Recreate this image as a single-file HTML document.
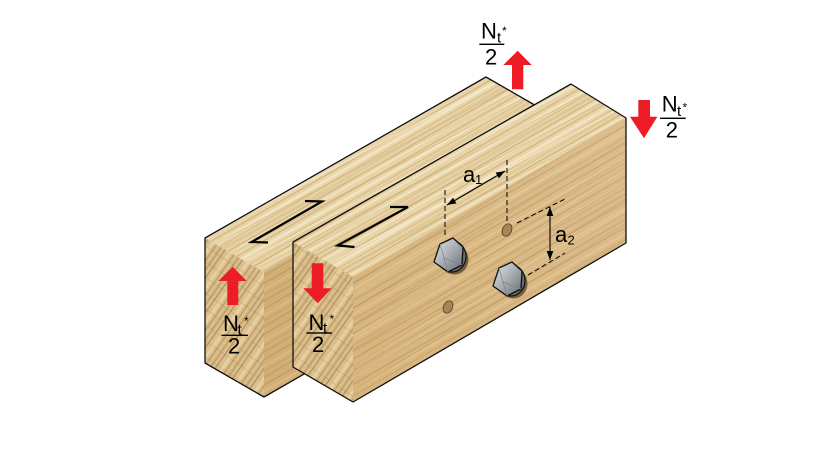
<!DOCTYPE html>
<html>
<head>
<meta charset="utf-8">
<style>
html,body{margin:0;padding:0;background:#fff;}
svg{display:block;}
</style>
</head>
<body>
<svg width="814" height="462" viewBox="0 0 814 462" xmlns="http://www.w3.org/2000/svg" font-family="'Liberation Sans', Arial, sans-serif">
<defs>
  <pattern id="gTop" patternUnits="userSpaceOnUse" width="400" height="26" patternTransform="rotate(-30)">
    <rect width="400" height="26" fill="#e8d4a7"/>
    <rect y="2" width="400" height="1.2" fill="#cfb47f"/>
    <rect y="6" width="400" height="2.5" fill="#f2e5c6"/>
    <rect y="11" width="400" height="1" fill="#d3b983"/>
    <rect y="14" width="400" height="3" fill="#dfc595" opacity=".7"/>
    <rect y="19" width="400" height="1" fill="#c9ad77"/>
    <rect y="22" width="400" height="2" fill="#f1e2c0"/>
  </pattern>
  <pattern id="gTop2" patternUnits="userSpaceOnUse" width="400" height="41" patternTransform="rotate(-28)">
    <rect y="4" width="400" height="1" fill="#c8aa74" opacity=".6"/>
    <rect y="17" width="400" height="2" fill="#f5ead0" opacity=".6"/>
    <rect y="29" width="400" height="1.2" fill="#cbae78" opacity=".5"/>
    <rect y="35" width="400" height="2" fill="#d9bf8d" opacity=".5"/>
  </pattern>
  <pattern id="gSide" patternUnits="userSpaceOnUse" width="400" height="22" patternTransform="rotate(-30)">
    <rect width="400" height="22" fill="#d7b47c"/>
    <rect y="3" width="400" height="1" fill="#bf9a62"/>
    <rect y="8" width="400" height="2" fill="#dfbf8a"/>
    <rect y="13" width="400" height="1" fill="#c7a36b"/>
    <rect y="18" width="400" height="1.5" fill="#bd975f" opacity=".6"/>
  </pattern>
  <pattern id="gSide2" patternUnits="userSpaceOnUse" width="400" height="35" patternTransform="rotate(-31.5)">
    <rect y="6" width="400" height="1" fill="#b48f58" opacity=".5"/>
    <rect y="15" width="400" height="2.5" fill="#e2c594" opacity=".5"/>
    <rect y="27" width="400" height="1" fill="#b8935c" opacity=".5"/>
  </pattern>
  <pattern id="gEnd" patternUnits="userSpaceOnUse" width="300" height="20" patternTransform="rotate(-55)">
    <rect width="300" height="20" fill="#dabf8c"/>
    <rect y="2" width="300" height="2" fill="#c2a26d"/>
    <rect y="7" width="300" height="1.2" fill="#b28f5a"/>
    <rect y="12" width="300" height="3" fill="#e6d0a2"/>
    <rect y="17" width="300" height="1.5" fill="#bf9e68"/>
  </pattern>
  <pattern id="gEnd2" patternUnits="userSpaceOnUse" width="300" height="13" patternTransform="rotate(35)">
    <rect y="5" width="300" height="0.8" fill="#a98a58" opacity=".4"/>
  </pattern>
  <linearGradient id="boltG" x1="0" y1="0" x2="1" y2="1">
    <stop offset="0" stop-color="#e3e6e9"/>
    <stop offset="0.45" stop-color="#aeb4b9"/>
    <stop offset="1" stop-color="#656c72"/>
  </linearGradient>
  <linearGradient id="sideLight" x1="0" y1="1" x2="1" y2="0">
    <stop offset="0" stop-color="#fff" stop-opacity="0"/>
    <stop offset="1" stop-color="#fff" stop-opacity="0.12"/>
  </linearGradient>
  <marker id="ah" viewBox="0 0 10 10" refX="10" refY="5" markerWidth="9" markerHeight="9" markerUnits="userSpaceOnUse" orient="auto-start-reverse">
    <path d="M0,1.3 L10,5 L0,8.7 z" fill="#000"/>
  </marker>
</defs>

<rect width="814" height="462" fill="#fff"/>

<!-- BACK BLOCK -->
<polygon points="205,238 486,77 545,111 264,272" fill="url(#gTop)"/>
<polygon points="205,238 486,77 545,111 264,272" fill="url(#gTop2)"/>
<polygon points="264,272 545,111 545,236 264,397" fill="url(#gSide)"/>
<polygon points="264,272 545,111 545,236 264,397" fill="#b08a55" opacity=".12"/>
<polygon points="205,238 264,272 264,397 205,363" fill="url(#gEnd)"/>
<polygon points="205,238 264,272 264,397 205,363" fill="url(#gEnd2)"/>
<polygon points="205,238 486,77 545,111 545,236 264,397 205,363" fill="none" stroke="#111" stroke-width="1.3" stroke-linejoin="round"/>

<polyline points="305,201 322,201.5 251.5,242 268,242.5" fill="none" stroke="#000" stroke-width="2.2" stroke-linejoin="miter"/>

<!-- FRONT BLOCK -->
<polygon points="293,242 571,84 626,118 353,277" fill="url(#gTop)"/>
<polygon points="293,242 571,84 626,118 353,277" fill="url(#gTop2)"/>
<polygon points="353,277 626,118 626,243 353,402" fill="url(#gSide)"/>
<polygon points="353,277 626,118 626,243 353,402" fill="url(#gSide2)"/>
<polygon points="353,277 626,118 626,243 353,402" fill="url(#sideLight)"/>
<polygon points="293,242 353,277 353,402 293,367" fill="url(#gEnd)"/>
<polygon points="293,242 353,277 353,402 293,367" fill="url(#gEnd2)"/>
<polygon points="293,242 571,84 626,118 626,243 353,402 293,367" fill="none" stroke="#111" stroke-width="1.3" stroke-linejoin="round"/>

<polyline points="390,207 408,207 337.5,245.5 354.5,247" fill="none" stroke="#000" stroke-width="2.2" stroke-linejoin="miter"/>

<!-- holes -->
<ellipse cx="507" cy="230" rx="4.5" ry="6.5" transform="rotate(25 507 230)" fill="#a98556" stroke="#5a4026" stroke-width=".9"/>
<ellipse cx="448" cy="307" rx="4.5" ry="6.5" transform="rotate(25 448 307)" fill="#a98556" stroke="#5a4026" stroke-width=".9"/>

<!-- dashed dimension lines -->
<g stroke="#000" stroke-width="1" stroke-dasharray="5,3" fill="none">
  <line x1="445" y1="190" x2="445" y2="238"/>
  <line x1="507" y1="160" x2="507" y2="222"/>
  <line x1="517" y1="223" x2="565" y2="199"/>
  <line x1="528" y1="275" x2="565" y2="253"/>
</g>

<line x1="447" y1="205" x2="505" y2="171" stroke="#000" stroke-width="1.1" marker-start="url(#ah)" marker-end="url(#ah)"/>
<line x1="550" y1="207" x2="550" y2="260" stroke="#000" stroke-width="1.1" marker-start="url(#ah)" marker-end="url(#ah)"/>

<text x="463" y="182" font-size="22" fill="#000">a</text>
<text x="475" y="184" font-size="13" fill="#000">1</text>
<text x="555" y="242" font-size="22" fill="#000">a</text>
<text x="567.5" y="244.5" font-size="13" fill="#000">2</text>

<!-- bolts -->
<g transform="translate(449,255)">
  <ellipse cx="5.5" cy="4.5" rx="14" ry="15" fill="#5e4628" opacity=".8"/>
  <ellipse cx="3" cy="1.5" rx="14" ry="15.5" fill="#676d72" stroke="#111" stroke-width="1.2"/>
  <polygon points="-15,7 -9,-11 4,-17 14,-8 13,10 -1,17" fill="url(#boltG)" stroke="#111" stroke-width="1.3" stroke-linejoin="round"/>
  <polyline points="-9,-11 -5,3 -1,17" fill="none" stroke="#7d858b" stroke-width=".7"/>
  <line x1="-5" y1="3" x2="13" y2="10" stroke="#7d858b" stroke-width=".7"/>
</g>
<g transform="translate(508,279)">
  <ellipse cx="5.5" cy="4.5" rx="14" ry="15" fill="#5e4628" opacity=".8"/>
  <ellipse cx="3" cy="1.5" rx="14" ry="15.5" fill="#676d72" stroke="#111" stroke-width="1.2"/>
  <polygon points="-15,7 -9,-11 4,-17 14,-8 13,10 -1,17" fill="url(#boltG)" stroke="#111" stroke-width="1.3" stroke-linejoin="round"/>
  <polyline points="-9,-11 -5,3 -1,17" fill="none" stroke="#7d858b" stroke-width=".7"/>
  <line x1="-5" y1="3" x2="13" y2="10" stroke="#7d858b" stroke-width=".7"/>
</g>

<!-- red arrows -->
<g fill="#ee1c25">
  <polygon points="517.7,50.7 531.7,65 523.3,65 523.3,89.3 512,89.3 512,65 503.3,65"/>
  <polygon points="638.3,100 650,100 650,116.7 657.3,116.7 644,138.3 630,116.7 638.3,116.7"/>
  <polygon points="232.7,266.7 246.7,281 238.3,281 238.3,305 227.3,305 227.3,281 218.3,281"/>
  <polygon points="311.7,263.3 323.3,263.3 323.3,288.3 331.7,288.3 317.7,303.3 303.3,288.3 311.7,288.3"/>
</g>

<!-- labels -->
<g fill="#000">
  <text x="481" y="38.5" font-size="22">N</text>
  <text x="497" y="42.5" font-size="15">t</text>
  <text x="502" y="35" font-size="12">*</text>
  <rect x="479.3" y="43.6" width="25" height="1.4"/>
  <text x="485" y="64.3" font-size="22">2</text>

  <text x="661.7" y="111.7" font-size="22">N</text>
  <text x="677" y="116" font-size="15">t</text>
  <text x="682.5" y="111.5" font-size="12">*</text>
  <rect x="660" y="117.6" width="25.7" height="1.4"/>
  <text x="665.7" y="137.3" font-size="22">2</text>

  <text x="223" y="331" font-size="22">N</text>
  <text x="237.5" y="334.5" font-size="15">t</text>
  <text x="244" y="325" font-size="12">*</text>
  <rect x="221.5" y="334.6" width="26.5" height="1.4"/>
  <text x="228" y="353.7" font-size="22">2</text>

  <text x="308.5" y="330" font-size="22">N</text>
  <text x="323" y="333" font-size="15">t</text>
  <text x="329.5" y="323" font-size="12">*</text>
  <rect x="306.5" y="332.3" width="25.5" height="1.4"/>
  <text x="312" y="352" font-size="22">2</text>
</g>
</svg>
</body>
</html>
